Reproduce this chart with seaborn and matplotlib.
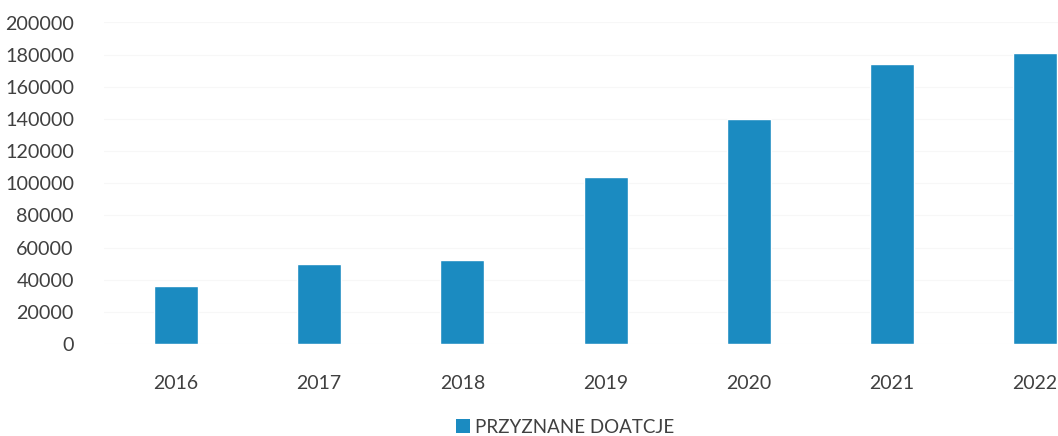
import matplotlib
matplotlib.use("Agg")
import matplotlib.pyplot as plt
import seaborn as sns
import pandas as pd
from matplotlib.patches import Patch

years = ["2016", "2017", "2018", "2019", "2020", "2021", "2022"]
values = [36000, 50000, 52000, 104000, 140000, 174000, 181000]
series_name = "PRZYZNANE DOATCJE"
y_ticks = [0, 20000, 40000, 60000, 80000, 100000, 120000, 140000, 160000, 180000, 200000]

bar_color = "#1b8bc1"
text_color = "#404040"

sns.set_theme(style="white")
plt.rcParams["font.family"] = ["Lato", "DejaVu Sans"]

df = pd.DataFrame({"year": years, "value": values})

fig = plt.figure(figsize=(10.58, 4.36), dpi=100)
ax = fig.add_axes([104.4 / 1058, 1 - 344 / 436, 1002.4 / 1058, (344 - 22.5) / 436])

sns.barplot(data=df, x="year", y="value", color=bar_color, saturation=1,
            width=0.307, ax=ax, order=years)

ax.set_ylim(0, 200000)
ax.set_xlim(-0.5, len(years) - 0.5)
ax.set_yticks(y_ticks)
ax.set_yticklabels([str(t) for t in y_ticks])
ax.set_xlabel("")
ax.set_ylabel("")
for s in ax.spines.values():
    s.set_visible(False)
ax.tick_params(axis="y", length=0, pad=22, labelsize=14.2, labelcolor=text_color)
ax.tick_params(axis="x", length=0, pad=22, labelsize=14.0, labelcolor=text_color)
ax.yaxis.grid(True, color="#f7f7f7", linewidth=0.8)
ax.set_axisbelow(True)

handle = Patch(facecolor=bar_color, edgecolor="none", label=series_name)
fig.legend(handles=[handle], loc="center", bbox_to_anchor=(565 / 1058, 1 - 427 / 436),
           frameon=False, fontsize=13.5, handlelength=0.75, handleheight=0.75,
           handletextpad=0.3, labelcolor=text_color)

fig.savefig("out.png", dpi=100)
